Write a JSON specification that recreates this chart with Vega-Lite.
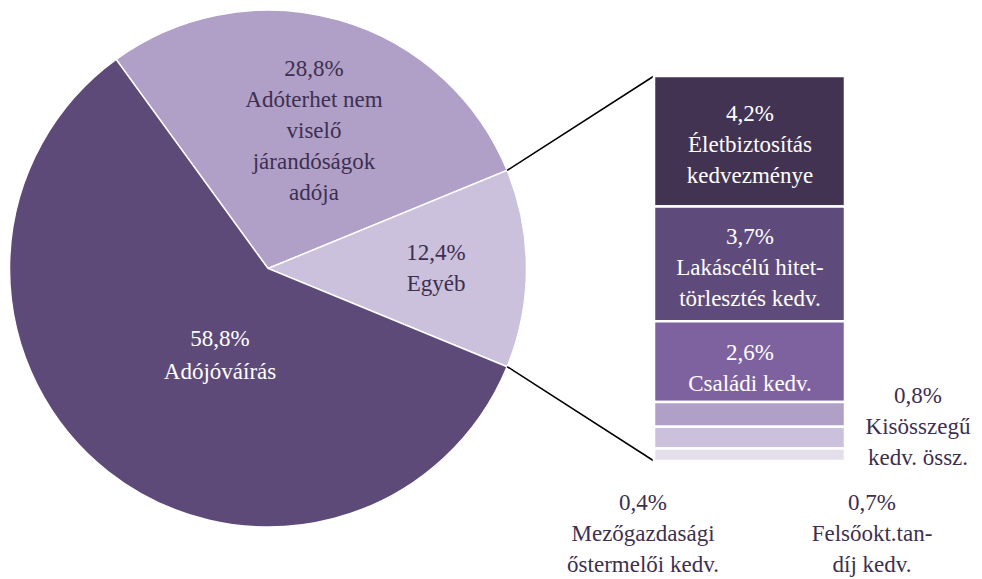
{
  "$schema": "https://vega.github.io/schema/vega-lite/v6.json",
  "width": 982,
  "height": 579,
  "padding": 0,
  "autosize": {"type": "none"},
  "background": "white",
  "config": {
    "view": {"stroke": null},
    "text": {"font": "Liberation Serif", "fontSize": 23, "lineHeight": 31, "lineBreak": "\n"}
  },
  "datasets": {
    "pie": [
      {"cat": "Adóterhet nem viselő járandóságok adója", "label": "28,8%\nAdóterhet nem\nviselő\njárandóságok\nadója", "value": 28.8, "ord": 1},
      {"cat": "Egyéb", "label": "12,4%\nEgyéb", "value": 12.4, "ord": 2},
      {"cat": "Adójóváírás", "label": "58,8%\nAdójóváírás", "value": 58.8, "ord": 3}
    ],
    "bar": [
      {"cat": "Életbiztosítás kedvezménye", "label": "4,2%\nÉletbiztosítás\nkedvezménye", "value": 4.2, "ord": 6},
      {"cat": "Lakáscélú hiteltörlesztés kedv.", "label": "3,7%\nLakáscélú hitet-\ntörlesztés kedv.", "value": 3.7, "ord": 5},
      {"cat": "Családi kedv.", "label": "2,6%\nCsaládi kedv.", "value": 2.6, "ord": 4},
      {"cat": "Kisösszegű kedv. össz.", "label": "0,8%\nKisösszegű\nkedv. össz.", "value": 0.8, "ord": 3},
      {"cat": "Felsőokt. tandíj kedv.", "label": "0,7%\nFelsőokt.tan-\ndíj kedv.", "value": 0.7, "ord": 2},
      {"cat": "Mezőgazdasági őstermelői kedv.", "label": "0,4%\nMezőgazdasági\nőstermelői kedv.", "value": 0.4, "ord": 1}
    ]
  },
  "layer": [
    {
      "data": {"name": "pie"},
      "mark": {"type": "arc", "outerRadius": 258.5, "stroke": "white", "strokeWidth": 1.5},
      "encoding": {
        "theta": {"field": "value", "type": "quantitative", "stack": true, "scale": {"domain": [0, 100], "range": [-0.6283, 5.6549]}},
        "order": {"field": "ord", "type": "quantitative"},
        "color": {
          "field": "cat", "type": "nominal", "legend": null,
          "scale": {
            "domain": ["Adóterhet nem viselő járandóságok adója", "Egyéb", "Adójóváírás", "Életbiztosítás kedvezménye", "Lakáscélú hiteltörlesztés kedv.", "Családi kedv.", "Kisösszegű kedv. össz.", "Felsőokt. tandíj kedv.", "Mezőgazdasági őstermelői kedv."],
            "range": ["#b09fc7", "#cbc1dc", "#5e4a79", "#433352", "#5f4b7b", "#7e62a0", "#b09fc7", "#cbc1dc", "#e5dfec"]
          }
        },
        "x": {"datum": 268, "type": "quantitative", "axis": null, "scale": {"domain": [0, 982], "nice": false, "zero": false}},
        "y": {"datum": 6.2, "type": "quantitative", "axis": null, "scale": {"domain": [-3.8006, 14.848], "nice": false, "zero": false}}
      }
    },
    {
      "data": {"name": "pie"},
      "transform": [{"filter": "datum.ord == 1"}],
      "mark": {"type": "text", "color": "#3d2f50"},
      "encoding": {
        "x": {"datum": 314, "type": "quantitative", "axis": null},
        "y": {"datum": 12.626, "type": "quantitative", "axis": null},
        "text": {"field": "label", "type": "nominal"}
      }
    },
    {
      "data": {"name": "pie"},
      "transform": [{"filter": "datum.ord == 2"}],
      "mark": {"type": "text", "color": "#3d2f50"},
      "encoding": {
        "x": {"datum": 436, "type": "quantitative", "axis": null},
        "y": {"datum": 6.699, "type": "quantitative", "axis": null},
        "text": {"field": "label", "type": "nominal"}
      }
    },
    {
      "data": {"name": "pie"},
      "transform": [{"filter": "datum.ord == 3"}],
      "mark": {"type": "text", "color": "white", "lineHeight": 33},
      "encoding": {
        "x": {"datum": 220, "type": "quantitative", "axis": null},
        "y": {"datum": 3.929, "type": "quantitative", "axis": null},
        "text": {"field": "label", "type": "nominal"}
      }
    },
    {
      "data": {"name": "pie"},
      "transform": [
        {"stack": "value", "groupby": [], "sort": [{"field": "ord", "order": "ascending"}], "as": ["t0", "t1"]},
        {"filter": "datum.cat == 'Egyéb'"},
        {"calculate": "(-36 + datum.t0 * 3.6) * PI / 180", "as": "a0"},
        {"calculate": "268 + 258.5 * sin(datum.a0)", "as": "ex"},
        {"calculate": "6.2 + 258.5 * cos(datum.a0) / 31.048", "as": "ey"},
        {"calculate": "654", "as": "bx"}
      ],
      "mark": {"type": "rule", "color": "black", "strokeWidth": 1.5},
      "encoding": {
        "x": {"field": "ex", "type": "quantitative", "axis": null},
        "y": {"field": "ey", "type": "quantitative", "axis": null},
        "x2": {"field": "bx"},
        "y2": {"field": "value"}
      }
    },
    {
      "data": {"name": "pie"},
      "transform": [
        {"stack": "value", "groupby": [], "sort": [{"field": "ord", "order": "ascending"}], "as": ["t0", "t1"]},
        {"filter": "datum.cat == 'Egyéb'"},
        {"calculate": "(-36 + datum.t1 * 3.6) * PI / 180", "as": "a1"},
        {"calculate": "268 + 258.5 * sin(datum.a1)", "as": "ex"},
        {"calculate": "6.2 + 258.5 * cos(datum.a1) / 31.048", "as": "ey"},
        {"calculate": "654", "as": "bx"},
        {"calculate": "0", "as": "base"}
      ],
      "mark": {"type": "rule", "color": "black", "strokeWidth": 1.5},
      "encoding": {
        "x": {"field": "ex", "type": "quantitative", "axis": null},
        "y": {"field": "ey", "type": "quantitative", "axis": null},
        "x2": {"field": "bx"},
        "y2": {"field": "base"}
      }
    },
    {
      "data": {"name": "bar"},
      "transform": [
        {"stack": "value", "groupby": [], "sort": [{"field": "ord", "order": "ascending"}], "as": ["y0", "y1"]},
        {"calculate": "654", "as": "bx0"},
        {"calculate": "845", "as": "bx1"}
      ],
      "mark": {"type": "rect", "stroke": "white", "strokeWidth": 2.5},
      "encoding": {
        "x": {"field": "bx0", "type": "quantitative", "axis": null},
        "x2": {"field": "bx1"},
        "y": {"field": "y0", "type": "quantitative", "axis": null},
        "y2": {"field": "y1"},
        "color": {"field": "cat", "type": "nominal", "legend": null}
      }
    },
    {
      "data": {"name": "bar"},
      "transform": [
        {"stack": "value", "groupby": [], "sort": [{"field": "ord", "order": "ascending"}], "as": ["y0", "y1"]},
        {"calculate": "(datum.y0 + datum.y1) / 2", "as": "mid"},
        {"filter": "datum.ord >= 5"}
      ],
      "mark": {"type": "text", "color": "white", "dy": -27},
      "encoding": {
        "x": {"datum": 750, "type": "quantitative", "axis": null},
        "y": {"field": "mid", "type": "quantitative", "axis": null},
        "text": {"field": "label", "type": "nominal"}
      }
    },
    {
      "data": {"name": "bar"},
      "transform": [
        {"stack": "value", "groupby": [], "sort": [{"field": "ord", "order": "ascending"}], "as": ["y0", "y1"]},
        {"calculate": "(datum.y0 + datum.y1) / 2", "as": "mid"},
        {"filter": "datum.ord == 4"}
      ],
      "mark": {"type": "text", "color": "white", "dy": -9},
      "encoding": {
        "x": {"datum": 750, "type": "quantitative", "axis": null},
        "y": {"field": "mid", "type": "quantitative", "axis": null},
        "text": {"field": "label", "type": "nominal"}
      }
    },
    {
      "data": {"name": "bar"},
      "transform": [{"filter": "datum.ord == 3"}],
      "mark": {"type": "text", "color": "#3d2f50"},
      "encoding": {
        "x": {"datum": 918, "type": "quantitative", "axis": null},
        "y": {"datum": 2.094, "type": "quantitative", "axis": null},
        "text": {"field": "label", "type": "nominal"}
      }
    },
    {
      "data": {"name": "bar"},
      "transform": [{"filter": "datum.ord == 2"}],
      "mark": {"type": "text", "color": "#3d2f50"},
      "encoding": {
        "x": {"datum": 872, "type": "quantitative", "axis": null},
        "y": {"datum": -1.353, "type": "quantitative", "axis": null},
        "text": {"field": "label", "type": "nominal"}
      }
    },
    {
      "data": {"name": "bar"},
      "transform": [{"filter": "datum.ord == 1"}],
      "mark": {"type": "text", "color": "#3d2f50"},
      "encoding": {
        "x": {"datum": 643, "type": "quantitative", "axis": null},
        "y": {"datum": -1.353, "type": "quantitative", "axis": null},
        "text": {"field": "label", "type": "nominal"}
      }
    }
  ]
}
